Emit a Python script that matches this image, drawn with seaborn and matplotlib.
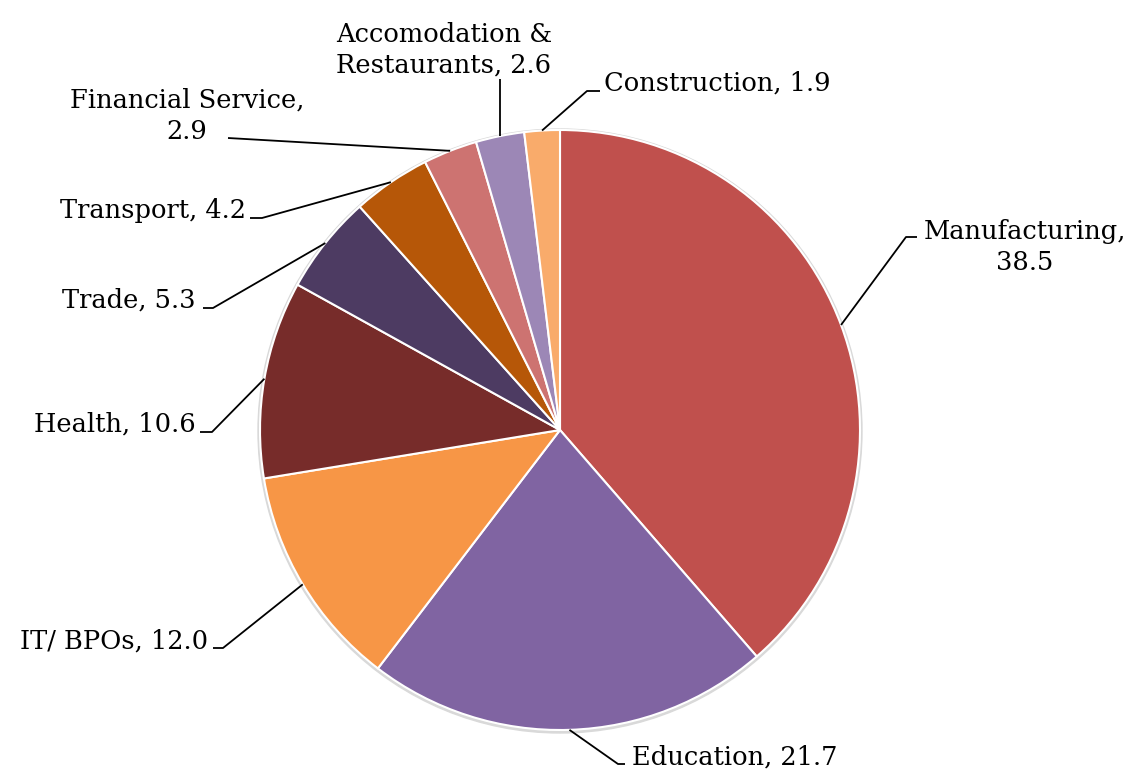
import numpy as np
import seaborn as sns
import matplotlib.pyplot as plt

# -------------------------------------------------------------------------
# Data (share of employment by sector, %)
# -------------------------------------------------------------------------
sectors = ["Manufacturing", "Education", "IT/ BPOs", "Health", "Trade",
           "Transport", "Financial Service", "Accomodation &\nRestaurants",
           "Construction"]
shares = [38.5, 21.7, 12.0, 10.6, 5.3, 4.2, 2.9, 2.6, 1.9]
colors = ["#C0504D", "#8064A2", "#F79646", "#772C2A", "#4D3B62",
          "#B65708", "#CD7371", "#9C87B6", "#F9AB6B"]

# label layout in pixel coords (y measured from top): elbow, line end, text anchor
# (text y = baseline of the last line)
W, H = 1127, 769
label_layout = {
    "Manufacturing":      dict(elbow=(906, 237), end=(917, 237), text=(924, 270), ha="left", fmt="{},\n{}"),
    "Education":          dict(elbow=(618, 764), end=(625, 764), text=(632, 765), ha="left", fmt="{}, {}"),
    "IT/ BPOs":           dict(elbow=(223, 648), end=(213, 648), text=(208, 649), ha="right", fmt="{}, {}"),
    "Health":             dict(elbow=(212, 432), end=(200, 432), text=(196, 432), ha="right", fmt="{}, {}"),
    "Trade":              dict(elbow=(213, 308), end=(203, 308), text=(196, 308), ha="right", fmt="{}, {}"),
    "Transport":          dict(elbow=(262, 218), end=(250, 218), text=(246, 218), ha="right", fmt="{}, {}"),
    "Financial Service":  dict(elbow=(228, 138), end=(228, 138), text=(187, 139), ha="center", fmt="{},\n{}"),
    "Accomodation &\nRestaurants": dict(elbow=(None, 79), end=(None, 79), text=(444, 73), ha="center", fmt="{}, {}"),
    "Construction":       dict(elbow=(587, 91), end=(600, 91), text=(604, 91), ha="left", fmt="{}, {}"),
}

sns.set_theme(style="white")
plt.rcParams["font.family"] = ["DejaVu Serif"]

fig = plt.figure(figsize=(W / 100, H / 100), dpi=100)
ax = fig.add_axes([0, 0, 1, 1])

cx, cy, r = 560, H - 430, 300

# faint shadow rim
ax.add_patch(plt.Circle((cx, cy - 1), r + 2, color="#d9d9d9", zorder=0))

wedges, _ = ax.pie(shares, colors=colors, startangle=90, counterclock=False,
                   center=(cx, cy), radius=r, frame=True,
                   wedgeprops=dict(edgecolor="white", linewidth=1.5))
ax.set_xlim(0, W)
ax.set_ylim(0, H)
ax.axis("off")

for w, name, val in zip(wedges, sectors, shares):
    lay = label_layout[name]
    mid = np.deg2rad((w.theta1 + w.theta2) / 2)
    sx, sy = cx + r * np.cos(mid), cy + r * np.sin(mid)
    ex, ey = lay["elbow"]
    nx, ny = lay["end"]
    ex = sx if ex is None else ex
    nx = sx if nx is None else nx
    ax.plot([sx, ex, nx], [sy, H - ey, H - ny], color="black", lw=1.3,
            solid_capstyle="butt", zorder=3)
    tx, ty = lay["text"]
    ax.text(tx, H - ty, lay["fmt"].format(name, f"{val:.1f}"),
            ha=lay["ha"], va="baseline", multialignment="center",
            fontsize=18.5, color="black", linespacing=1.3)

fig.savefig("out.png", dpi=100)
